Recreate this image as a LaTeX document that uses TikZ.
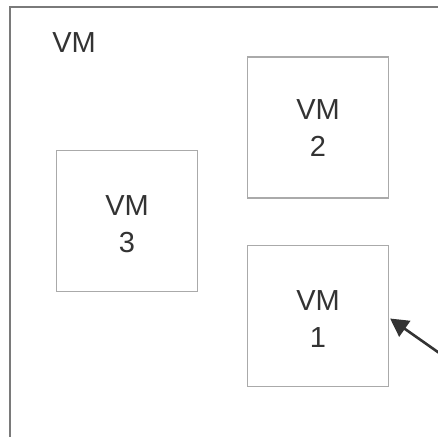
\documentclass[tikz,border=0pt]{standalone}
\usepackage{fontspec}
\setmainfont{Liberation Sans}
\usetikzlibrary{arrows.meta,calc}
\definecolor{outerline}{HTML}{7A7A7A}
\definecolor{boxline}{HTML}{AAAAAA}
\definecolor{txt}{HTML}{333333}
\tikzset{
  vmbox/.style={draw=boxline, line width=1.2pt, minimum width=141pt, minimum height=141pt, inner sep=0pt},
  vmtext/.style={text=txt, font=\fontsize{29}{37}\selectfont, align=center, inner sep=0pt},
  pointer/.style={draw=txt, line width=2.6pt, -{Triangle[length=18pt,width=19pt]}}
}
\begin{document}
\begin{tikzpicture}[x=1pt,y=-1pt]
\useasboundingbox (0,0) rectangle (438,436);
\begin{scope}
\clip (0,0) rectangle (438,436);
\draw[draw=outerline, line width=2.2pt] (10,7) rectangle (470,470);
\node[vmtext, anchor=base] (title) at (74,52.5) {VM};
\node[vmbox] (vm2) at (318,127.5) {};
\node[vmbox] (vm3) at (127,221) {};
\node[vmbox] (vm1) at (318,316) {};
\node[vmtext] (vm2t) at ([yshift=-1pt]vm2.center) {VM\\2};
\node[vmtext] (vm3t) at ([yshift=-3pt]vm3.center) {VM\\3};
\node[vmtext] (vm1t) at ([yshift=-3pt]vm1.center) {VM\\1};
\coordinate (tail) at (462,369);
\draw[pointer] (tail) -- ($(vm1.east)+(1,2.5)$);
\end{scope}
\end{tikzpicture}
\end{document}
